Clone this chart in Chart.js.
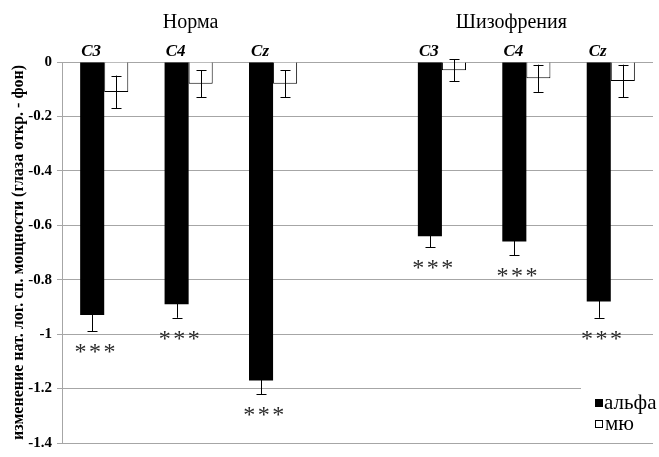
<!DOCTYPE html>
<html>
<head>
<meta charset="utf-8">
<script src="https://cdn.jsdelivr.net/npm/chart.js@4"></script>
<style>
  html, body { margin: 0; padding: 0; background: #fff; }
  #wrap { width: 659px; height: 457px; }
</style>
</head>
<body>
<div id="wrap"><canvas id="myChart"></canvas></div>
<script>
// data
const categories = ['C3', 'C4', 'Cz', '', 'C3', 'C4', 'Cz'];
const alphaValues = [-0.93, -0.89, -1.17, null, -0.64, -0.66, -0.88];
const alphaErr    = [0.06, 0.05, 0.05, null, 0.04, 0.05, 0.06];
const muValues    = [-0.11, -0.08, -0.08, null, -0.03, -0.06, -0.07];
const muErr       = [0.06, 0.05, 0.05, null, 0.04, 0.05, 0.06];
const stars       = ['***', '***', '***', '', '***', '***', '***'];
const groupTitles = ['Норма', 'Шизофрения'];
const seriesNames = ['альфа', 'мю'];
const yMin = -1.4, yMax = 0, yStep = 0.2;
const yTitle = 'изменение нат. лог. сп. мощности (глаза откр. - фон)';

const serif = '"Liberation Serif", "Times New Roman", serif';

// error bars, stars, category labels, group titles, legend
const extras = {
  id: 'extras',
  afterDatasetsDraw(chart) {
    const c = chart.ctx;
    const y = chart.scales.y;
    const x = chart.scales.x;
    const errs = [alphaErr, muErr];

    c.save();
    c.strokeStyle = '#000';
    c.lineWidth = 1;
    chart.data.datasets.forEach((ds, di) => {
      chart.getDatasetMeta(di).data.forEach((bar, i) => {
        const v = ds.data[i];
        if (v == null) return;
        const e = errs[di][i];
        const bx = Math.round(bar.x) + 0.5;
        const y1 = y.getPixelForValue(v - e);
        const y2 = y.getPixelForValue(v + e);
        c.beginPath();
        c.moveTo(bx, y1); c.lineTo(bx, y2);
        c.moveTo(bx - 5, Math.round(y1) + 0.5); c.lineTo(bx + 5, Math.round(y1) + 0.5);
        c.moveTo(bx - 5, Math.round(y2) + 0.5); c.lineTo(bx + 5, Math.round(y2) + 0.5);
        c.stroke();
      });
    });

    // significance stars under alpha bars
    const alphaMeta = chart.getDatasetMeta(0);
    c.fillStyle = '#2a2a2a';
    c.font = '24px ' + serif;
    c.letterSpacing = '2.5px';
    c.textAlign = 'center';
    c.textBaseline = 'alphabetic';
    alphaMeta.data.forEach((bar, i) => {
      if (!stars[i]) return;
      const yy = y.getPixelForValue(alphaValues[i] - alphaErr[i]) + 28;
      c.fillText(stars[i], bar.x + 4, yy);
    });
    c.letterSpacing = '0px';

    // category labels on top
    c.fillStyle = '#000';
    c.textBaseline = 'middle';
    c.font = 'italic bold 17px ' + serif;
    alphaMeta.data.forEach((bar, i) => {
      if (!categories[i]) return;
      c.fillText(categories[i], bar.x - 1, 52);
    });

    // group titles
    c.font = '20px ' + serif;
    c.fillText(groupTitles[0], x.getPixelForValue(1) + 2, 23);
    c.fillText(groupTitles[1], x.getPixelForValue(5) - 15, 23);

    // legend
    c.fillStyle = '#fff';
    c.fillRect(581, 388, 78, 46);
    c.fillStyle = '#000';
    c.fillRect(595, 399, 8, 8);
    c.strokeRect(595.5, 420.5, 7, 7);
    c.textAlign = 'left';
    c.font = '21px ' + serif;
    c.fillText(seriesNames[0], 604, 403);
    c.fillText(seriesNames[1], 605, 424);
    c.restore();
  }
};

new Chart(document.getElementById('myChart'), {
  type: 'bar',
  data: {
    labels: categories,
    datasets: [
      { label: seriesNames[0], data: alphaValues, backgroundColor: '#000', borderColor: '#000', borderWidth: 0 },
      { label: seriesNames[1], data: muValues, backgroundColor: '#fff', borderColor: '#000', borderWidth: 1 }
    ]
  },
  options: {
    responsive: true,
    maintainAspectRatio: false,
    animation: false,
    layout: { padding: { top: 62, right: 6, bottom: 6, left: 0 } },
    datasets: { bar: { categoryPercentage: 0.57, barPercentage: 1 } },
    plugins: { legend: { display: false }, tooltip: { enabled: false } },
    scales: {
      x: { display: false },
      y: {
        min: yMin, max: yMax,
        afterFit(s) { s.width = 62; },
        ticks: {
          stepSize: yStep,
          padding: 5,
          color: '#000',
          font: { family: serif, size: 15, weight: 'bold' },
          callback: v => String(+v.toFixed(1))
        },
        grid: { color: '#a6a6a6', tickLength: 5 },
        border: { color: '#a6a6a6' },
        title: {
          display: true,
          text: yTitle,
          color: '#000',
          font: { family: serif, size: 16, weight: 'bold' },
          padding: { top: 9, bottom: 0 }
        }
      }
    }
  },
  plugins: [extras]
});
</script>
</body>
</html>
